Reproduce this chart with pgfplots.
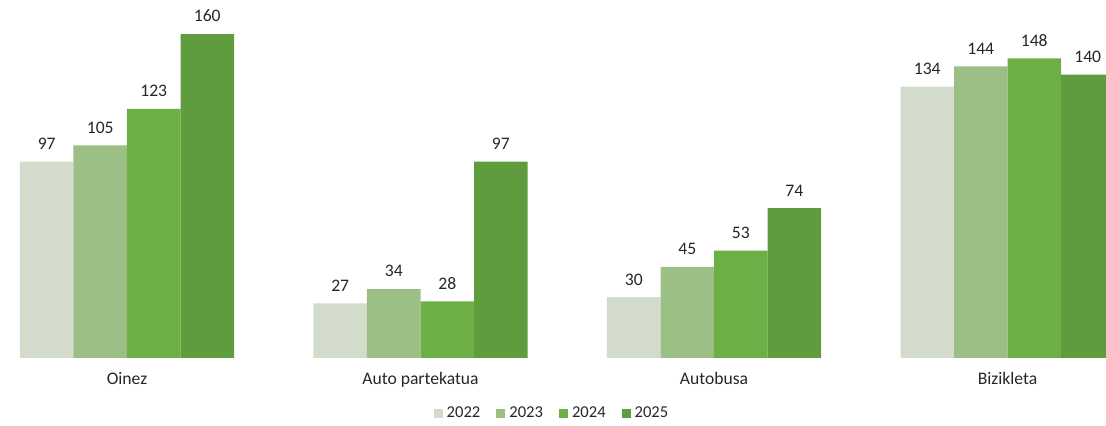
\documentclass[border=0pt]{standalone}
\usepackage{pgfplots}
\pgfplotsset{compat=1.18}
\usepackage{fontspec}
\setmainfont{Carlito}
\definecolor{cA}{HTML}{D3DCCB}
\definecolor{cB}{HTML}{9CBF86}
\definecolor{cC}{HTML}{6BAF45}
\definecolor{cD}{HTML}{5E9C3E}
\definecolor{txt}{HTML}{262626}
\begin{document}
\begin{tikzpicture}
\begin{axis}[
  scale only axis,
  width=553pt, height=179pt,
  xmin=-0.4327, xmax=3.3356,
  ymin=0, ymax=176.8,
  axis line style={draw=none},
  major tick length=0pt,
  ytick=\empty,
  xtick={0,1,2,3},
  xticklabels={Oinez,Auto partekatua,Autobusa,Bizikleta},
  xticklabel style={font=\fontsize{8.8}{10}\selectfont, text=txt, yshift=-3.5pt},
  /pgf/number format/assume math mode=true,
  ybar=0pt,
  bar width=0.1823,
  nodes near coords={\pgfmathprintnumber{\pgfplotspointmeta}},
  nodes near coords style={font=\fontsize{8.8}{10}\selectfont, text=txt, yshift=2.5pt},
  legend style={at={(0.5,0)}, anchor=north, yshift=-20pt, draw=none, fill=none,
    legend columns=4, font=\fontsize{8.3}{10}\selectfont, text=txt,
    /tikz/every even column/.append style={column sep=6pt}},
  legend image code/.code={\fill[#1] (0pt,-2.2pt) rectangle (4.5pt,2.3pt);},
]
\addplot[fill=cA, draw=none, bar shift=-0.27345] coordinates {(0,97) (1,27) (2,30) (3,134)};
\addplot[fill=cB, draw=none, bar shift=-0.09115] coordinates {(0,105) (1,34) (2,45) (3,144)};
\addplot[fill=cC, draw=none, bar shift=0.09115] coordinates {(0,123) (1,28) (2,53) (3,148)};
\addplot[fill=cD, draw=none, bar shift=0.27345] coordinates {(0,160) (1,97) (2,74) (3,140)};
\legend{2022,2023,2024,2025}
\coordinate (bl) at (rel axis cs:0,0);
\coordinate (tr) at (rel axis cs:1,1);
\end{axis}
\pgfresetboundingbox
\path (bl) ++(0,-34pt) rectangle (tr);
\end{tikzpicture}
\end{document}
